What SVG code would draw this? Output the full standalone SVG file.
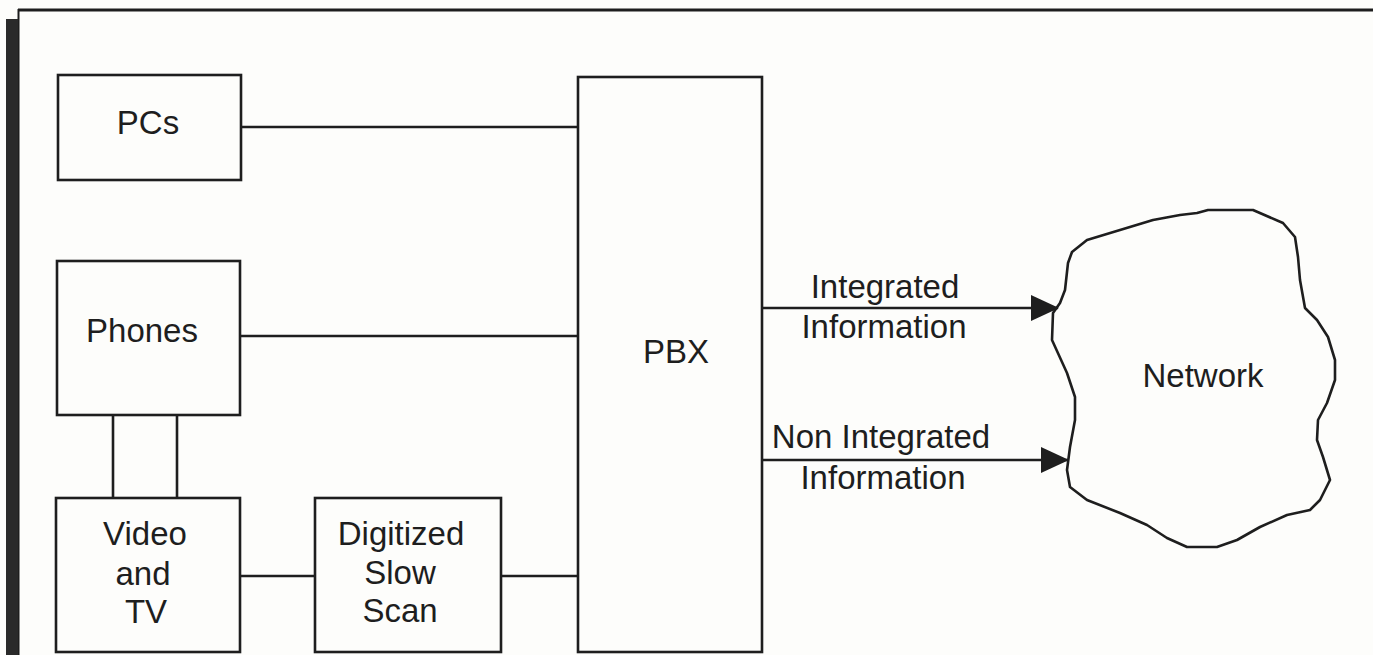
<svg xmlns="http://www.w3.org/2000/svg" width="1373" height="655" viewBox="0 0 1373 655">
  <style>
    .box { fill: none; stroke: #1e1e1e; stroke-width: 2.6; }
    .wire { fill: none; stroke: #1e1e1e; stroke-width: 2.6; }
    .lbl { font-family: "Liberation Sans", Arial, sans-serif; font-size: 33px; fill: #1e1e1e; text-anchor: middle; }
  </style>
  <defs>
    <marker id="arrow" viewBox="0 0 28 26" refX="27" refY="13" markerWidth="28" markerHeight="26" markerUnits="userSpaceOnUse" orient="auto">
      <path d="M0,0 L28,13 L0,26 Z" fill="#1e1e1e"/>
    </marker>
  </defs>
  <rect width="1373" height="655" fill="#fdfdfb"/>

  <!-- page frame -->
  <g id="frame">
    <line x1="18" y1="10" x2="1373" y2="10" stroke="#1e1e1e" stroke-width="3"/>
    <line x1="18.5" y1="9" x2="18.5" y2="655" stroke="#1e1e1e" stroke-width="2"/>
    <rect x="6" y="19" width="12" height="636" fill="#2a2a2a"/>
  </g>

  <!-- connectors -->
  <g id="connectors">
    <line class="wire" x1="241" y1="127" x2="578" y2="127"/>
    <line class="wire" x1="240" y1="336" x2="578" y2="336"/>
    <line class="wire" x1="113" y1="415" x2="113" y2="498"/>
    <line class="wire" x1="177" y1="415" x2="177" y2="498"/>
    <line class="wire" x1="240" y1="576" x2="315" y2="576"/>
    <line class="wire" x1="501" y1="576" x2="578" y2="576"/>
    <line class="wire" x1="762" y1="308" x2="1058" y2="308" marker-end="url(#arrow)"/>
    <line class="wire" x1="762" y1="460" x2="1068" y2="460" marker-end="url(#arrow)"/>
    <text class="lbl" x="885" y="298">Integrated</text>
    <text class="lbl" x="884" y="338">Information</text>
    <text class="lbl" x="881" y="448">Non Integrated</text>
    <text class="lbl" x="883" y="489">Information</text>
  </g>

  <g id="pcs">
    <rect class="box" x="58" y="75" width="183" height="105"/>
    <text class="lbl" x="148" y="134">PCs</text>
  </g>

  <g id="phones">
    <rect class="box" x="57" y="261" width="183" height="154"/>
    <text class="lbl" x="142" y="342">Phones</text>
  </g>

  <g id="video">
    <rect class="box" x="56" y="498" width="184" height="154"/>
    <text class="lbl" x="145" y="545">Video</text>
    <text class="lbl" x="143" y="585">and</text>
    <text class="lbl" x="146" y="623">TV</text>
  </g>

  <g id="slowscan">
    <rect class="box" x="315" y="498" width="186" height="154"/>
    <text class="lbl" x="401" y="545">Digitized</text>
    <text class="lbl" x="400" y="584">Slow</text>
    <text class="lbl" x="400" y="622">Scan</text>
  </g>

  <g id="pbx">
    <rect class="box" x="578" y="77" width="184" height="575"/>
    <text class="lbl" x="676" y="363">PBX</text>
  </g>

  <g id="network">
    <path class="box" stroke-width="3" stroke-linejoin="round" d="M1208,210 L1253,210 L1283,223 L1295,237 L1298,257 L1300,280 L1305,308 L1317,320 L1328,337 L1335,360 L1335,380 L1327,403 L1318,420 L1317,440 L1323,457 L1330,480 L1320,500 L1310,510 L1287,515 L1260,527 L1237,540 L1217,547 L1187,547 L1167,538 L1147,525 L1120,513 L1087,500 L1070,487 L1067,470 L1070,447 L1075,420 L1075,397 L1067,373 L1052,340 L1053,313 L1060,303 L1065,290 L1068,263 L1072,252 L1087,240 L1120,230 L1153,220 L1180,215 L1197,213 Z"/>
    <text class="lbl" x="1203" y="387">Network</text>
  </g>
</svg>
